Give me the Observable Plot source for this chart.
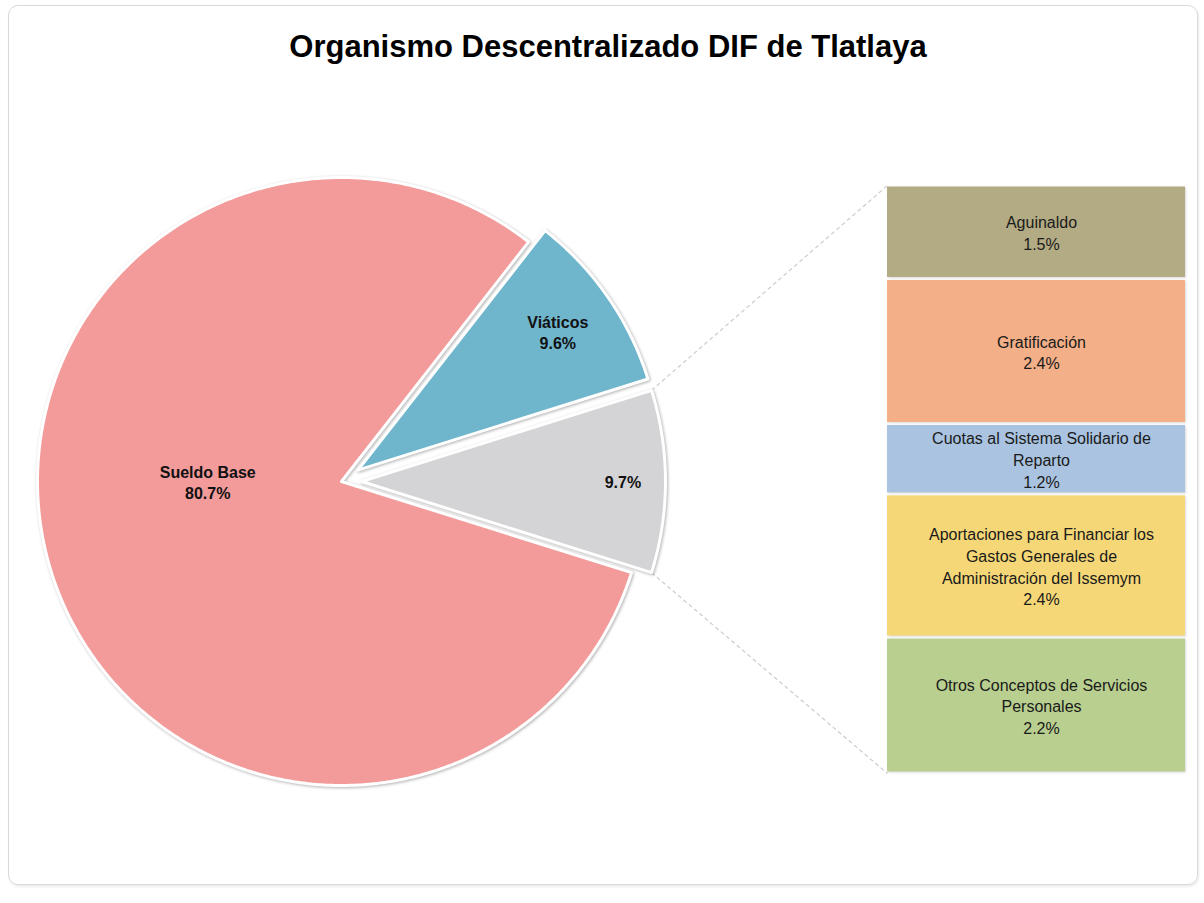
<!DOCTYPE html>
<html><head><meta charset="utf-8">
<script src="https://cdn.jsdelivr.net/npm/d3@7"></script>
<script src="https://cdn.jsdelivr.net/npm/@observablehq/plot@0.6"></script>
<style>
body{margin:0;background:#fff;font-family:"Liberation Sans",Arial,sans-serif;}
#wrap{position:relative;width:1204px;height:903px;overflow:hidden;background:#fff;}
#frame{position:absolute;left:8px;top:5px;width:1188px;height:878px;border:1px solid #d9d9d9;border-radius:10px;box-shadow:1px 2px 3px rgba(0,0,0,0.08);}
#title{position:absolute;left:0;top:29px;width:1216px;text-align:center;font-weight:bold;font-size:31px;color:#000;line-height:36px;}
#chart{position:absolute;left:0;top:80px;}
</style></head><body>
<div id="wrap"><div id="frame"></div><div id="title"></div><div id="chart"></div></div>
<script>
// ---- data ----
const TITLE = "Organismo Descentralizado DIF de Tlatlaya";
const pieNames = ["Sueldo Base", "Viáticos"];
const pieValues = [80.7, 9.6];
const pieColors = ["#F29B9A", "#6FB5CC"];
const otherName = "Otros (desglose)";
const otherColor = "#D4D4D6";
const barNames = [
  "Aguinaldo",
  "Gratificación",
  "Cuotas al Sistema Solidario de Reparto",
  "Aportaciones para Financiar los Gastos Generales de Administración del Issemym",
  "Otros Conceptos de Servicios Personales"
];
const barValues = [1.54, 2.39, 1.16, 2.36, 2.24];
const barColors = ["#B3AB83", "#F3AF87", "#A9C3E0", "#F5D777", "#B8CF8F"];

// ---- layout ----
const W = 1204, H = 810, R = 304, CX = 341, CY = 401;
const EXPLODE = {"Viáticos": 20 / R, [otherName]: 20 / R};
const LABEL_R = {"Sueldo Base": 0.44, "Viáticos": 0.80, [otherName]: 0.86};
const LABEL_ANGLE = {"Sueldo Base": Math.PI};
const BAR_X = [(887 - CX) / R, (1185 - CX) / R];
const BAR_Y = [-(693 - CY) / R, (CY - 105) / R];

document.getElementById("title").textContent = TITLE;
const fmt = d3.format(".1f");

const otherValue = d3.sum(barValues);
const total = d3.sum(pieValues) + otherValue;
const TAU = 2 * Math.PI;
const gOther = TAU * otherValue / total;

const slices = [];
slices.push({name: otherName, value: otherValue, a0: -gOther / 2, a1: gOther / 2, label: fmt(otherValue) + "%"});
let a = gOther / 2;
for (let i = pieNames.length - 1; i >= 0; i--) {
  const span = TAU * pieValues[i] / total;
  slices.push({name: pieNames[i], value: pieValues[i], a0: a, a1: a + span, label: pieNames[i] + "\n" + fmt(pieValues[i]) + "%"});
  a += span;
}
const piePts = [];
const pieLabels = [];
for (const s of slices) {
  const mid = (s.a0 + s.a1) / 2;
  const ex = EXPLODE[s.name] || 0;
  s.cx = ex * Math.cos(mid); s.cy = ex * Math.sin(mid);
  piePts.push({name: s.name, x: s.cx, y: s.cy});
  const n = Math.ceil((s.a1 - s.a0) / (Math.PI / 360));
  for (let k = 0; k <= n; k++) {
    const t = s.a0 + (s.a1 - s.a0) * k / n;
    piePts.push({name: s.name, x: s.cx + Math.cos(t), y: s.cy + Math.sin(t)});
  }
  const la = LABEL_ANGLE[s.name] ?? mid;
  const lr = LABEL_R[s.name];
  pieLabels.push({text: s.label, x: s.cx + lr * Math.cos(la), y: s.cy + lr * Math.sin(la)});
}

// bar segments (top to bottom)
const barH = BAR_Y[1] - BAR_Y[0];
let cum = 0;
const barRows = barNames.map((name, i) => {
  const y2 = BAR_Y[1] - barH * cum / otherValue;
  cum += barValues[i];
  const y1 = BAR_Y[1] - barH * cum / otherValue;
  return {name, value: barValues[i], x1: BAR_X[0], x2: BAR_X[1], y1, y2,
    xm: (BAR_X[0] + BAR_X[1]) / 2, ym: (y1 + y2) / 2,
    text: name + "\n" + fmt(barValues[i]) + "%"};
});

const other = slices[0];
const connectors = [
  {x1: other.cx + Math.cos(other.a1), y1: other.cy + Math.sin(other.a1), x2: BAR_X[0], y2: BAR_Y[1]},
  {x1: other.cx + Math.cos(other.a0), y1: other.cy + Math.sin(other.a0), x2: BAR_X[0], y2: BAR_Y[0]}
];

const plot = Plot.plot({
  width: W, height: H, margin: 0,
  x: {domain: [-CX / R, (W - CX) / R], axis: null},
  y: {domain: [-(H - CY) / R, CY / R], axis: null},
  color: {domain: [...pieNames, otherName, ...barNames], range: [...pieColors, otherColor, ...barColors]},
  style: {fontFamily: "'Liberation Sans', Arial, sans-serif", background: "transparent", overflow: "visible"},
  marks: [
    Plot.link(connectors, {x1: "x1", y1: "y1", x2: "x2", y2: "y2", stroke: "#cccccc", strokeWidth: 1.2, strokeDasharray: "4,3"}),
    Plot.line(piePts, {x: "x", y: "y", z: "name", fill: "name", stroke: "white", strokeWidth: 3, curve: "linear-closed"}),
    Plot.rect(barRows, {x1: "x1", x2: "x2", y1: "y1", y2: "y2", fill: "name", insetTop: 1.5, insetBottom: 1.5}),
    Plot.text(pieLabels, {x: "x", y: "y", text: "text", fontSize: 16, fontWeight: "bold", fill: "#111", lineHeight: 1.35}),
    Plot.text(barRows, {x: "xm", y: "ym", text: "text", fontSize: 16, fill: "#1a1a1a", lineHeight: 1.35, lineWidth: 15.8, dx: 5})
  ]
});
d3.select(plot).selectAll('g[aria-label="line"]').style("filter", "drop-shadow(1px 1px 1.5px rgba(0,0,0,0.3))");
d3.select(plot).selectAll('g[aria-label="rect"]').style("filter", "drop-shadow(1px 1px 1px rgba(0,0,0,0.15))");
document.getElementById("chart").appendChild(plot);
</script>
</body></html>
